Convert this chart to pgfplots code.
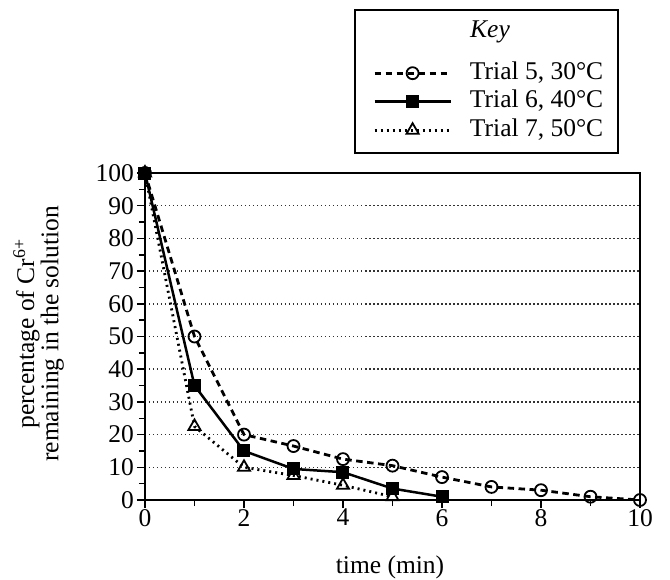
\documentclass[border=0pt]{standalone}
\usepackage{fontspec}
\setmainfont{Liberation Serif}
\usepackage{pgfplots}
\pgfplotsset{compat=1.18}
\begin{document}
\begin{tikzpicture}
\path[use as bounding box] (-145pt,-79pt) rectangle (525pt,500pt);
\begin{axis}[
  name=ax,
  at={(0pt,0pt)}, anchor=south west,
  scale only axis, width=495pt, height=327pt,
  xmin=0, xmax=10, ymin=0, ymax=100,
  clip=false,
  axis line style={line width=1.6pt},
  xtick={0,2,4,6,8,10}, minor x tick num=1,
  ytick={0,10,...,100}, minor y tick num=1,
  xtick pos=lower, ytick pos=left,
  tick align=outside,
  major tick length=8pt, minor tick length=6pt,
  tick style={line width=1.5pt, black},
  /pgf/number format/assume math mode=true,
  ticklabel style={font=\fontsize{25.5}{25}\selectfont},
  xticklabel style={inner sep=1pt},
  yticklabel style={inner sep=3pt},
  ymajorgrids,
  grid style={line width=1.5pt, dash pattern=on 1.5pt off 2.5pt, black!80},
  xlabel={time (min)},
  xlabel style={font=\fontsize{25.5}{25}\selectfont, at={(axis description cs:0.495,-0.205)}, anchor=center},
  ylabel={percentage of Cr\textsuperscript{6+}\\remaining in the solution},
  ylabel style={font=\fontsize{25.5}{22}\selectfont, align=center, at={(axis description cs:-0.215,0.508)}, anchor=center},
  legend image code/.code={\draw[mark repeat=2,mark phase=2,#1] plot coordinates {(0pt,0pt) (38pt,0pt) (76pt,0pt)};},
  legend style={at={(axis description cs:0.4606,1.3456)}, anchor=north west, draw=none, fill=none,
    inner sep=0pt, row sep=2.5pt, column sep=18pt, font=\fontsize{25.5}{25}\selectfont,
    nodes={inner sep=0pt, text height=19pt, text depth=7pt}},
  legend cell align=left,
]
\addplot[black, line width=2.8pt, dash pattern=on 6.5pt off 4.5pt, mark=o, mark size=6pt,
  mark options={solid, line width=1.8pt, fill=white}]
  coordinates {(0,100) (1,50) (2,20) (3,16.5) (4,12.5) (5,10.5) (6,7) (7,4) (8,3) (9,1) (10,0)};
\addlegendentry{Trial 5, 30°C}
\addplot[black, line width=2.5pt, mark=square*, mark size=6pt,
  mark options={solid, line width=1pt}]
  coordinates {(0,100) (1,35) (2,15) (3,9.5) (4,8.5) (5,3.5) (6,1)};
\addlegendentry{Trial 6, 40°C}
\addplot[black, line width=2.8pt, dash pattern=on 2pt off 4pt, mark=triangle, mark size=7pt,
  mark options={solid, line width=1.8pt, fill=white}]
  coordinates {(0,100) (1,22.5) (2,10) (3,7.5) (4,4.5) (5,1)};
\addlegendentry{Trial 7, 50°C}
\end{axis}
\draw[line width=1.8pt] (210pt,490pt) rectangle (473pt,347pt);
\node[font=\itshape\fontsize{25.5}{25}\selectfont] at (345pt,468pt) {Key};
\end{tikzpicture}
\end{document}
